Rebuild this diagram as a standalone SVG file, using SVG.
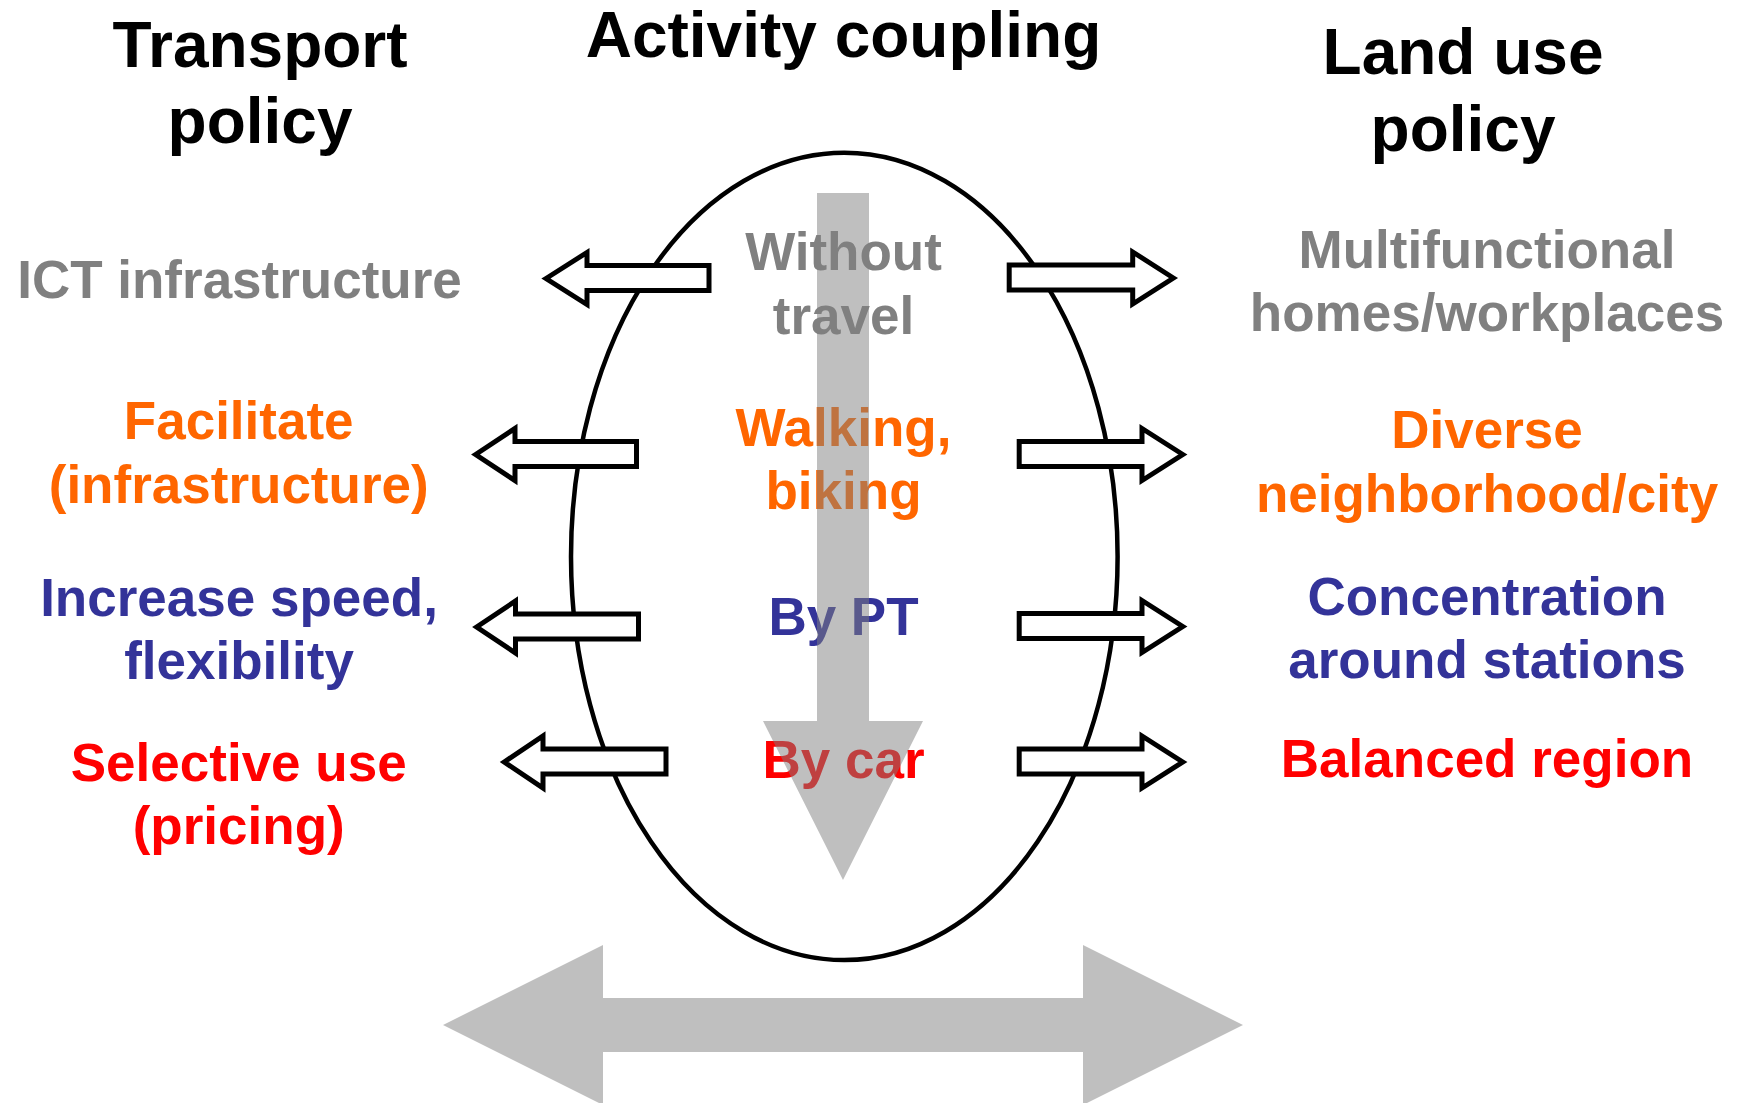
<svg xmlns="http://www.w3.org/2000/svg" width="1737" height="1103" viewBox="0 0 1737 1103">
<style>
  text { font-family: "Liberation Sans", Arial, sans-serif; font-weight: bold; text-anchor: middle; }
  .title { font-size: 64px; fill: #000000; }
  .body { font-size: 53px; }
  .gray { fill: #808080; }
  .orange { fill: #ff6600; }
  .blue { fill: #333399; }
  .red { fill: #ff0000; }
  .small-arrow { fill: #ffffff; stroke: #000000; stroke-width: 5; stroke-linejoin: miter; stroke-miterlimit: 10; }
  .big-arrow { fill: #808080; fill-opacity: 0.5; stroke: none; }
  .ellipse { fill: none; stroke: #000000; stroke-width: 4.5; }
</style>
<rect width="1737" height="1103" fill="#ffffff"/>

<g id="activity-ellipse">
  <ellipse class="ellipse" cx="844.3" cy="556.4" rx="273.3" ry="403.7"/>
</g>

<g id="connectors">
  <!-- left pointing arrows -->
  <path class="small-arrow" d="M546,278.5 L587,252.5 L587,265.5 L709,265.5 L709,290.5 L587,290.5 L587,304.5 Z"/>
  <path class="small-arrow" d="M475.6,454.5 L515,428.5 L515,441.5 L636.5,441.5 L636.5,466.5 L515,466.5 L515,480.5 Z"/>
  <path class="small-arrow" d="M476.6,627 L515.5,601 L515.5,614 L638.5,614 L638.5,639 L515.5,639 L515.5,653 Z"/>
  <path class="small-arrow" d="M504.2,762 L543,736 L543,749 L666,749 L666,774 L543,774 L543,788 Z"/>
  <!-- right pointing arrows -->
  <path class="small-arrow" d="M1173.4,278 L1132.7,252 L1132.7,265 L1009.2,265 L1009.2,290 L1132.7,290 L1132.7,304 Z"/>
  <path class="small-arrow" d="M1182.8,454.5 L1142,428.5 L1142,441.5 L1019.2,441.5 L1019.2,466.5 L1142,466.5 L1142,480.5 Z"/>
  <path class="small-arrow" d="M1182.8,626.5 L1142,600.5 L1142,613.5 L1019.2,613.5 L1019.2,638.5 L1142,638.5 L1142,652.5 Z"/>
  <path class="small-arrow" d="M1182.8,762 L1142,736 L1142,749 L1019.2,749 L1019.2,774 L1142,774 L1142,788 Z"/>
</g>

<g id="title-transport">
  <text class="title" x="260" y="66.7">Transport</text>
  <text class="title" x="260" y="143.3">policy</text>
</g>
<g id="title-activity">
  <text class="title" x="843.5" y="57">Activity coupling</text>
</g>
<g id="title-landuse">
  <text class="title" x="1463" y="74">Land use</text>
  <text class="title" x="1463" y="150.6">policy</text>
</g>

<g id="node-ict">
  <text class="body gray" x="239.5" y="298.3">ICT infrastructure</text>
</g>
<g id="node-facilitate">
  <text class="body orange" x="238.7" y="439">Facilitate</text>
  <text class="body orange" x="238.7" y="502.5">(infrastructure)</text>
</g>
<g id="node-increase">
  <text class="body blue" x="239" y="615.5">Increase speed,</text>
  <text class="body blue" x="239" y="678.5">flexibility</text>
</g>
<g id="node-selective">
  <text class="body red" x="238.7" y="780.5">Selective use</text>
  <text class="body red" x="238.7" y="844">(pricing)</text>
</g>

<g id="node-without">
  <text class="body gray" x="843.5" y="269.5">Without</text>
  <text class="body gray" x="843.5" y="333.5">travel</text>
</g>
<g id="node-walking">
  <text class="body orange" x="843.5" y="445.5">Walking,</text>
  <text class="body orange" x="843.5" y="508.5">biking</text>
</g>
<g id="node-bypt">
  <text class="body blue" x="843.5" y="635">By PT</text>
</g>
<g id="node-bycar">
  <text class="body red" x="843.5" y="778">By car</text>
</g>

<g id="node-multifunctional">
  <text class="body gray" x="1487" y="267.5">Multifunctional</text>
  <text class="body gray" x="1487" y="331">homes/workplaces</text>
</g>
<g id="node-diverse">
  <text class="body orange" x="1487" y="448">Diverse</text>
  <text class="body orange" x="1487" y="511.5">neighborhood/city</text>
</g>
<g id="node-concentration">
  <text class="body blue" x="1487" y="615">Concentration</text>
  <text class="body blue" x="1487" y="678">around stations</text>
</g>
<g id="node-balanced">
  <text class="body red" x="1487" y="777">Balanced region</text>
</g>

<g id="big-arrows">
  <path class="big-arrow" d="M817,193 L869,193 L869,721 L923,721 L843,880 L763,721 L817,721 Z"/>
  <path class="big-arrow" d="M443,1025 L603,945 L603,998 L1083,998 L1083,945 L1243,1025 L1083,1105 L1083,1052 L603,1052 L603,1105 Z"/>
</g>
</svg>
